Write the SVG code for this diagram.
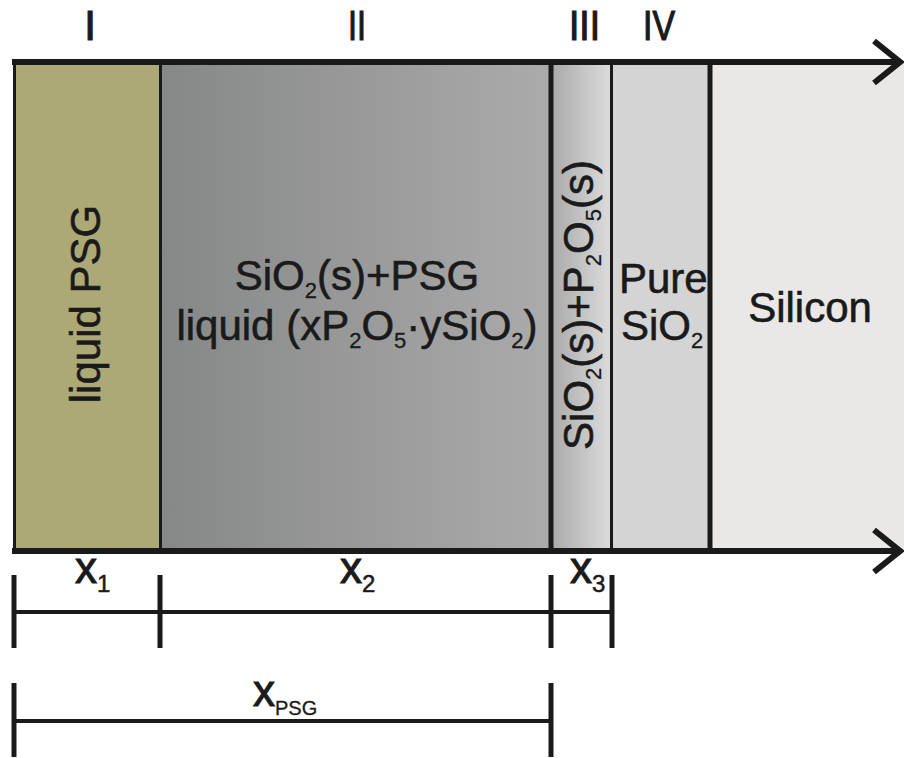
<svg xmlns="http://www.w3.org/2000/svg" width="904" height="758" viewBox="0 0 904 758">
<style>
text { font-family: "Liberation Sans", Arial, sans-serif; fill: #1a1a1a; stroke: #1a1a1a; stroke-width: 0.6px; }
.big { font-size: 42px; }
.sub { font-size: 22px; stroke-width: 0.3px; }
.lab { font-size: 44px; stroke-width: 1px; }
.lsub { font-size: 24px; stroke-width: 0.5px; }
.psub { font-size: 20px; stroke-width: 0.3px; }
.rom { stroke-width: 1.2px; }
.ink { stroke: #1a1a1a; fill: none; }
</style>
<defs>
<linearGradient id="g2" x1="0" y1="0" x2="1" y2="0">
<stop offset="0" stop-color="#868787"/>
<stop offset="1" stop-color="#ababab"/>
</linearGradient>
<linearGradient id="g3" x1="0" y1="0" x2="1" y2="0">
<stop offset="0" stop-color="#a9a9a9"/>
<stop offset="1" stop-color="#dcdcdc"/>
</linearGradient>
</defs>

<g id="region-I">
<rect x="13" y="62" width="147" height="489" fill="#ada977"/>
<text class="big" transform="translate(100,304) rotate(-90)" text-anchor="middle">liquid PSG</text>
<text class="big rom" x="90" y="40" text-anchor="middle">I</text>
</g>

<g id="region-II">
<rect x="160" y="62" width="391" height="489" fill="url(#g2)"/>
<text class="big" x="357" y="290" text-anchor="middle">SiO<tspan class="sub" dy="8">2</tspan><tspan dy="-8">(s)+PSG</tspan></text>
<text class="big" x="357" y="340" text-anchor="middle">liquid (xP<tspan class="sub" dy="8">2</tspan><tspan dy="-8">O</tspan><tspan class="sub" dy="8">5</tspan><tspan dy="-8">·ySiO</tspan><tspan class="sub" dy="8">2</tspan><tspan dy="-8">)</tspan></text>
<text class="big rom" x="357" y="40" text-anchor="middle" textLength="18" lengthAdjust="spacingAndGlyphs">II</text>
</g>

<g id="region-III">
<rect x="551" y="62" width="60" height="489" fill="url(#g3)"/>
<text class="big" transform="translate(593,305) rotate(-90)" text-anchor="middle">SiO<tspan class="sub" dy="8">2</tspan><tspan dy="-8">(s)+P</tspan><tspan class="sub" dy="8">2</tspan><tspan dy="-8">O</tspan><tspan class="sub" dy="8">5</tspan><tspan dy="-8">(s)</tspan></text>
<text class="big rom" x="569" y="40" textLength="31" lengthAdjust="spacingAndGlyphs">III</text>
</g>

<g id="region-IV">
<rect x="611" y="62" width="99" height="489" fill="#d4d4d4"/>
<text class="big" x="619" y="293">Pure</text>
<text class="big" x="621" y="340">SiO<tspan class="sub" dy="8">2</tspan></text>
<text class="big rom" x="643" y="40" textLength="32" lengthAdjust="spacingAndGlyphs">IV</text>
</g>

<g id="silicon">
<rect x="710" y="62" width="194" height="489" fill="#e9e8e6"/>
<text class="big" x="810" y="322" text-anchor="middle">Silicon</text>
</g>

<g id="connectors">
<line class="ink" x1="14.5" y1="62" x2="14.5" y2="551" stroke-width="3"/>
<line class="ink" x1="160.5" y1="62" x2="160.5" y2="551" stroke-width="3"/>
<line class="ink" x1="551" y1="62" x2="551" y2="551" stroke-width="5"/>
<line class="ink" x1="611.5" y1="62" x2="611.5" y2="551" stroke-width="3"/>
<line class="ink" x1="710" y1="62" x2="710" y2="551" stroke-width="5"/>
<line class="ink" x1="12" y1="62" x2="899" y2="62" stroke-width="6"/>
<polyline class="ink" points="874,41 900,62 874,83" stroke-width="6"/>
<line class="ink" x1="12" y1="551" x2="899" y2="551" stroke-width="6"/>
<polyline class="ink" points="874,530 900,551 874,572" stroke-width="6"/>
<line class="ink" x1="14" y1="612" x2="612" y2="612" stroke-width="4"/>
<line class="ink" x1="14" y1="575" x2="14" y2="648" stroke-width="5"/>
<line class="ink" x1="160" y1="575" x2="160" y2="648" stroke-width="5"/>
<line class="ink" x1="551" y1="575" x2="551" y2="648" stroke-width="5"/>
<line class="ink" x1="612" y1="575" x2="612" y2="648" stroke-width="5"/>
<line class="ink" x1="14" y1="721" x2="551" y2="721" stroke-width="4" stroke="#333"/>
<line class="ink" x1="14" y1="683" x2="14" y2="757" stroke-width="5"/>
<line class="ink" x1="551" y1="683" x2="551" y2="757" stroke-width="5"/>
</g>

<g id="labels">
<text class="lab" x="75" y="583">x<tspan class="lsub" dy="9">1</tspan></text>
<text class="lab" x="340" y="583">x<tspan class="lsub" dy="9">2</tspan></text>
<text class="lab" x="570" y="583">x<tspan class="lsub" dy="9">3</tspan></text>
<text class="lab" x="253" y="706">x<tspan class="psub" dy="9">PSG</tspan></text>
</g>
</svg>
